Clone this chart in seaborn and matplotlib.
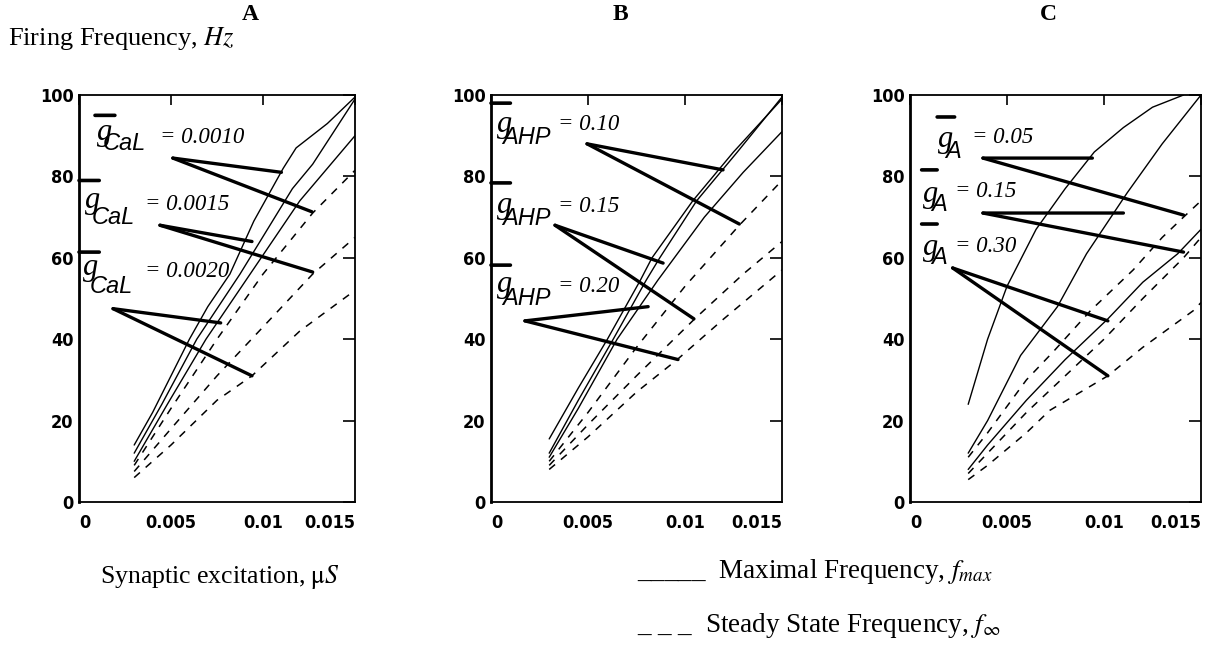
import numpy as np
import matplotlib
matplotlib.use("Agg")
import matplotlib.pyplot as plt
import seaborn as sns

# ---- panel A : g_CaL ----
a_names = ["0.0010", "0.0015", "0.0020"]
a_fmax_x = [[0.003, 0.004, 0.005, 0.006, 0.007, 0.0082, 0.0095, 0.0111, 0.0118, 0.0135, 0.015],
            [0.003, 0.0045, 0.0064, 0.00875, 0.0116, 0.0127, 0.015],
            [0.003, 0.0048, 0.0069, 0.0093, 0.012, 0.015]]
a_fmax_y = [[14, 22, 31, 40, 48, 56, 69, 82, 87, 93, 99.5],
            [12, 24, 40, 56, 77, 83, 99],
            [10, 24, 40, 56, 74, 90]]
a_finf_x = [[0.003, 0.005, 0.0075, 0.010, 0.0127, 0.015],
            [0.003, 0.005, 0.0075, 0.010, 0.0127, 0.015],
            [0.003, 0.005, 0.0075, 0.0094, 0.012, 0.015]]
a_finf_y = [[9, 23, 40, 56, 71, 81.5],
            [7.5, 18, 31, 43, 56, 65],
            [6, 14, 25, 31, 42, 52]]

# ---- panel B : g_AHP ----
b_names = ["0.10", "0.15", "0.20"]
b_fmax_x = [[0.003, 0.0045, 0.006, 0.0077, 0.0083, 0.0104, 0.0125, 0.015],
            [0.003, 0.0045, 0.0063, 0.008, 0.0087, 0.0106, 0.0127, 0.0150],
            [0.003, 0.0045, 0.0065, 0.0086, 0.011, 0.013, 0.015]]
b_fmax_y = [[15.5, 28, 40, 54.5, 60, 74, 86, 99],
            [12, 25, 40, 54.5, 60, 74, 86, 99.5],
            [11, 23, 40, 54.5, 70, 81, 91]]
b_finf_x = [[0.003, 0.005, 0.0075, 0.010, 0.0128, 0.015],
            [0.003, 0.005, 0.0075, 0.0105, 0.013, 0.015],
            [0.003, 0.005, 0.0075, 0.0096, 0.012, 0.015]]
b_finf_y = [[10, 22, 38, 53, 68, 79],
            [9, 19, 31, 45, 56, 64],
            [8, 16, 27, 35, 45, 57]]

# ---- panel C : g_A ----
c_names = ["0.05", "0.15", "0.30"]
c_fmax_x = [[0.003, 0.004, 0.005, 0.0065, 0.008, 0.0095, 0.011, 0.0125, 0.0141],
            [0.003, 0.004, 0.0057, 0.0076, 0.0091, 0.0112, 0.013, 0.015],
            [0.003, 0.004, 0.006, 0.008, 0.0102, 0.012, 0.0138, 0.015]]
c_fmax_y = [[24, 40, 53, 67, 77, 86, 92, 97, 100],
            [12, 20, 36, 48, 61, 76, 88, 100],
            [8, 14, 25, 35, 45, 54, 61, 67]]
c_finf_x = [[0.003, 0.004, 0.006, 0.0074, 0.0093, 0.0115, 0.013, 0.0141, 0.015],
            [0.003, 0.004, 0.006, 0.008, 0.010, 0.012, 0.0141, 0.015],
            [0.003, 0.004, 0.006, 0.0072, 0.0102, 0.012, 0.0146, 0.015]]
c_finf_y = [[11, 17, 30, 37, 47, 57, 65, 70, 74],
            [7, 12, 22, 31, 40, 50, 60, 65],
            [5.5, 9, 17, 22.5, 31, 38, 47, 49]]

# leader lines (from label, to curve)
a_leaders = [(0.0051, 84.5, 0.0110, 81), (0.0051, 84.5, 0.01266, 71.3),
             (0.0044, 68, 0.0094, 64), (0.0044, 68, 0.0127, 56.5),
             (0.00185, 47.5, 0.0077, 44), (0.00185, 47.5, 0.0094, 31)]
b_leaders = [(0.00495, 88, 0.01196, 81.6), (0.00495, 88, 0.0128, 68.3),
             (0.0033, 68, 0.00887, 58.7), (0.0033, 68, 0.01046, 45),
             (0.00175, 44.5, 0.0081, 48), (0.00175, 44.5, 0.00964, 35)]
c_leaders = [(0.00376, 84.5, 0.0094, 84.5), (0.00376, 84.5, 0.0141, 70.5),
             (0.00376, 71, 0.011, 71), (0.00376, 71, 0.0141, 61.4),
             (0.0022, 57.5, 0.0102, 44.5), (0.0022, 57.5, 0.0102, 31)]

sns.set_style("white")
plt.rcParams["font.family"] = ["Liberation Serif", "DejaVu Serif"]
plt.rcParams["mathtext.fontset"] = "stix"
for key in ["text.color", "axes.labelcolor", "xtick.color", "ytick.color"]:
    plt.rcParams[key] = "black"

W, H = 1211, 645
fig = plt.figure(figsize=(W / 100, H / 100), dpi=100)


def rect(left, right, top=95, bottom=502):
    return [left / W, 1 - bottom / H, (right - left) / W, (bottom - top) / H]


panels = [
    dict(rect=rect(79, 355), title="A", px=250, sub="CaL", names=a_names,
         fx=a_fmax_x, fy=a_fmax_y, dx=a_finf_x, dy=a_finf_y, leaders=a_leaders,
         g=[(0.0010, 89), (0.00033, 72.2), (0.00022, 55.8)],
         s=[(0.0013, 86.5), (0.0007, 68.3), (0.0006, 51.4)],
         v=[(0.0044, 88.2), (0.0036, 71.7), (0.0036, 55.3)],
         bars=[(0.00087, 0.00195, 95), (0.0, 0.0011, 79), (0.0, 0.0011, 61.4)]),
    dict(rect=rect(491, 782), title="B", px=620, sub="AHP", names=b_names,
         fx=b_fmax_x, fy=b_fmax_y, dx=b_finf_x, dy=b_finf_y, leaders=b_leaders,
         g=[(0.0003, 91), (0.0003, 71), (0.0003, 51.6)],
         s=[(0.00057, 88.0), (0.00057, 68.0), (0.00057, 48.4)],
         v=[(0.00345, 91.4), (0.00345, 71.3), (0.00345, 51.6)],
         bars=[(0.0, 0.001, 98), (0.0, 0.001, 78.4), (0.0, 0.001, 58.2)]),
    dict(rect=rect(910, 1201), title="C", px=1048, sub="A", names=c_names,
         fx=c_fmax_x, fy=c_fmax_y, dx=c_finf_x, dy=c_finf_y, leaders=c_leaders,
         g=[(0.00144, 87.2), (0.00067, 73.7), (0.00067, 60.7)],
         s=[(0.0018, 84.5), (0.0011, 71.4), (0.0011, 58.4)],
         v=[(0.0032, 88.2), (0.0023, 75), (0.0023, 61.4)],
         bars=[(0.0014, 0.0023, 94.6), (0.0006, 0.0014, 81.6), (0.0006, 0.0014, 68.3)]),
]

for p in panels:
    ax = fig.add_axes(p["rect"])
    for xs, ys in zip(p["fx"], p["fy"]):
        sns.lineplot(x=xs, y=ys, ax=ax, color="k", lw=1.0, sort=False)
    for xs, ys in zip(p["dx"], p["dy"]):
        sns.lineplot(x=xs, y=ys, ax=ax, color="k", lw=1.1, sort=False,
                     linestyle=(0, (5, 5)))
    for x0, y0, x1, y1 in p["leaders"]:
        ax.annotate("", xy=(x1, y1), xytext=(x0, y0),
                    arrowprops=dict(arrowstyle="-", lw=2.4, color="k",
                                    shrinkA=0, shrinkB=0))
    for (gx, gy), (sx, sy), (vx, vy), name, (b0, b1, by) in zip(
            p["g"], p["s"], p["v"], p["names"], p["bars"]):
        ax.text(gx, gy, "g", fontsize=22, style="italic", va="baseline")
        ax.text(sx, sy, p["sub"], fontsize=17, style="italic",
                family=["Liberation Sans", "DejaVu Sans"], va="baseline")
        ax.text(vx, vy, "= " + name, fontsize=16.5, style="italic", va="baseline")
        ax.annotate("", xy=(b1, by), xytext=(b0, by),
                    arrowprops=dict(arrowstyle="-", lw=2.6, color="k",
                                    shrinkA=0, shrinkB=0))
    ax.set_xlim(0, 0.015)
    ax.set_ylim(0, 100)
    ax.set_xticks([0, 0.005, 0.01, 0.015])
    ax.set_xticklabels(["0", "0.005", "0.01", "0.015"])
    ax.set_yticks([0, 20, 40, 60, 80, 100])
    ax.set_yticklabels(["0", "20", "40", "60", "80", "100"])
    ax.tick_params(direction="in", top=True, right=True, color="k",
                   labelsize=13, width=1.2)
    ax.tick_params(axis="x", length=7, pad=9)
    ax.tick_params(axis="y", length=9, pad=4)
    for lab in ax.get_xticklabels() + ax.get_yticklabels():
        lab.set_fontfamily(["DejaVu Sans"])
        lab.set_fontstretch("condensed")
        lab.set_fontweight("bold")
    xl = ax.get_xticklabels()
    xl[0].set_ha("left")
    xl[-1].set_ha("right")
    for side in ["top", "right", "bottom"]:
        ax.spines[side].set_linewidth(1.3)
        ax.spines[side].set_color("k")
    ax.spines["left"].set_linewidth(2.0)
    ax.spines["left"].set_color("k")
    ax.set_xlabel("")
    ax.set_ylabel("")
    fig.text(p["px"] / W, 1 - 15 / H, p["title"], fontsize=17,
             fontweight="bold", ha="center", va="center")

fig.text(8 / W, 1 - 39 / H, r"Firing Frequency, $Hz$", fontsize=19,
         ha="left", va="center")
fig.text(100 / W, 1 - 577 / H, r"Synaptic excitation, $\mathrm{\mu}S$",
         fontsize=18.5, ha="left", va="center")
fig.text(637 / W, 1 - 572 / H, r"_____  Maximal Frequency, $f_{max}$",
         fontsize=19.5, ha="left", va="center")
fig.text(637 / W, 1 - 626 / H, r"_ _ _  Steady State Frequency, $f_{\infty}$",
         fontsize=19.5, ha="left", va="center")

fig.savefig("out.png", dpi=100, facecolor="white")
